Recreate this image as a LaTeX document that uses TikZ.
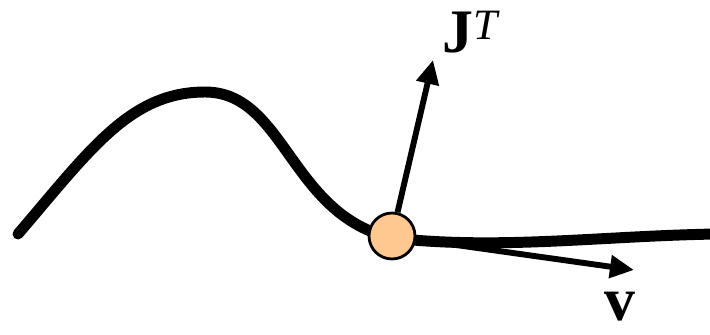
\documentclass[tikz,border=0pt]{standalone}
\usepackage{fontspec}
\setmainfont{Liberation Serif}
\usetikzlibrary{arrows.meta}
\definecolor{Peach}{HTML}{FFC891}

\begin{document}
\begin{tikzpicture}[x=0.025cm,y=-0.025cm,
    crv/.style={line width=7.8pt,line cap=round},
    vec/.style={line width=4.2pt,-{Triangle[length=6mm,width=5.5mm]}},
    lbl/.style={font=\fontsize{44}{50}\selectfont,inner sep=0pt}]
    \useasboundingbox (0,0) rectangle (710,335);
    \draw[crv] (18,234) .. controls (90,150) and (130,92) .. (205,92)
      .. controls (285,92) and (290,215) .. (392,238)
      .. controls (500,250) and (600,236) .. (716,234);
    \node[circle,draw,line width=2pt,fill=Peach,minimum size=1.15cm,inner sep=0pt] (pt) at (392,236) {};
    \coordinate (jt) at (433,60);
    \coordinate (v) at (634,270);
    \draw[vec] (pt) -- (jt);
    \draw[vec] (pt) -- (v);
    \node[lbl] (jlbl) at (472,32) {\textbf{J}\textsuperscript{\textit{T}}};
    \node[lbl,anchor=base] (vlbl) at (620,320) {\textbf{v}};
  \end{tikzpicture}
\end{document}
